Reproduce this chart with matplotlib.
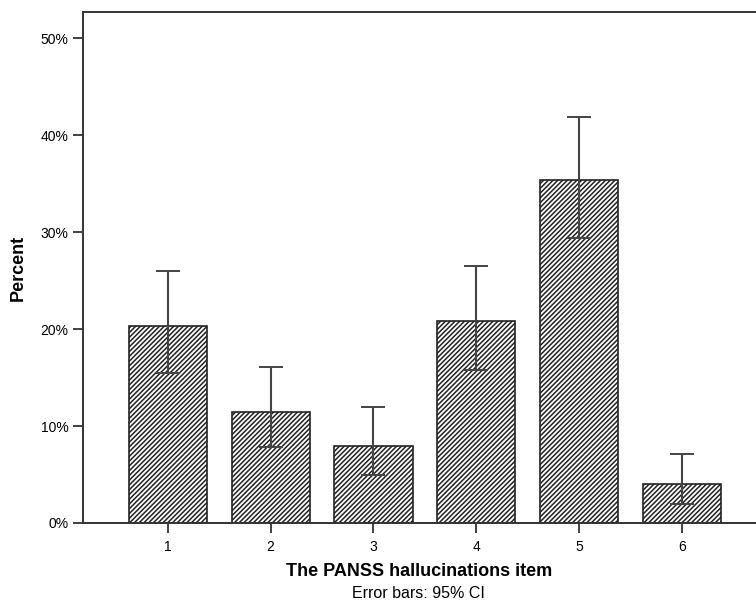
import matplotlib
matplotlib.use("Agg")
import matplotlib.pyplot as plt
from matplotlib.ticker import FuncFormatter

# PANSS hallucinations item: percent with 95% CI
items = ["1", "2", "3", "4", "5", "6"]
percent = [20.3, 11.4, 7.9, 20.8, 35.4, 4.0]
ci_low = [15.5, 7.8, 4.9, 15.8, 29.4, 2.0]
ci_high = [26.0, 16.1, 12.0, 26.5, 41.9, 7.1]

plt.rcParams["font.family"] = ["Liberation Sans", "DejaVu Sans"]
plt.rcParams["hatch.linewidth"] = 1.1
plt.rcParams["hatch.color"] = "#222222"

fig = plt.figure(figsize=(7.56, 6.03), dpi=100)
ax = fig.add_axes([0.1098, 0.1327, 0.8902, 0.8473])

xs = list(range(1, len(items) + 1))
err_lo = [p - lo for p, lo in zip(percent, ci_low)]
err_hi = [hi - p for p, hi in zip(percent, ci_high)]

ax.bar(xs, percent, width=0.76, color="white", edgecolor="#222222",
       linewidth=1.2, hatch="///////", zorder=2)
eb = ax.errorbar(xs, percent, yerr=[err_lo, err_hi], fmt="none",
                 ecolor="#444444", elinewidth=1.5, capsize=8.6, capthick=1.4, zorder=3)
for coll in eb[2]:
    coll.set_snap(True)

ax.set_xlim(0.175, 6.72)
ax.set_ylim(0, 52.7)
ax.set_xticks(xs)
ax.set_xticklabels(items)
ax.set_yticks([0, 10, 20, 30, 40, 50])
ax.yaxis.set_major_formatter(FuncFormatter(lambda v, _: f"{int(v)}%"))
ax.tick_params(axis="both", labelsize=10, length=7, width=1.3, color="#333333")
ax.tick_params(axis="x", pad=5)

for s in ("left", "top", "bottom"):
    ax.spines[s].set_linewidth(1.4)
    ax.spines[s].set_color("#333333")
ax.spines["right"].set_visible(False)

ax.set_ylabel("Percent", fontsize=13, fontweight="bold", labelpad=10)
ax.set_xlabel("The PANSS hallucinations item", fontsize=13, fontweight="bold", labelpad=7)
fig.text(0.554, 0.015, "Error bars: 95% CI", ha="center", va="center", fontsize=11.5)

fig.savefig("out.png", dpi=100)
